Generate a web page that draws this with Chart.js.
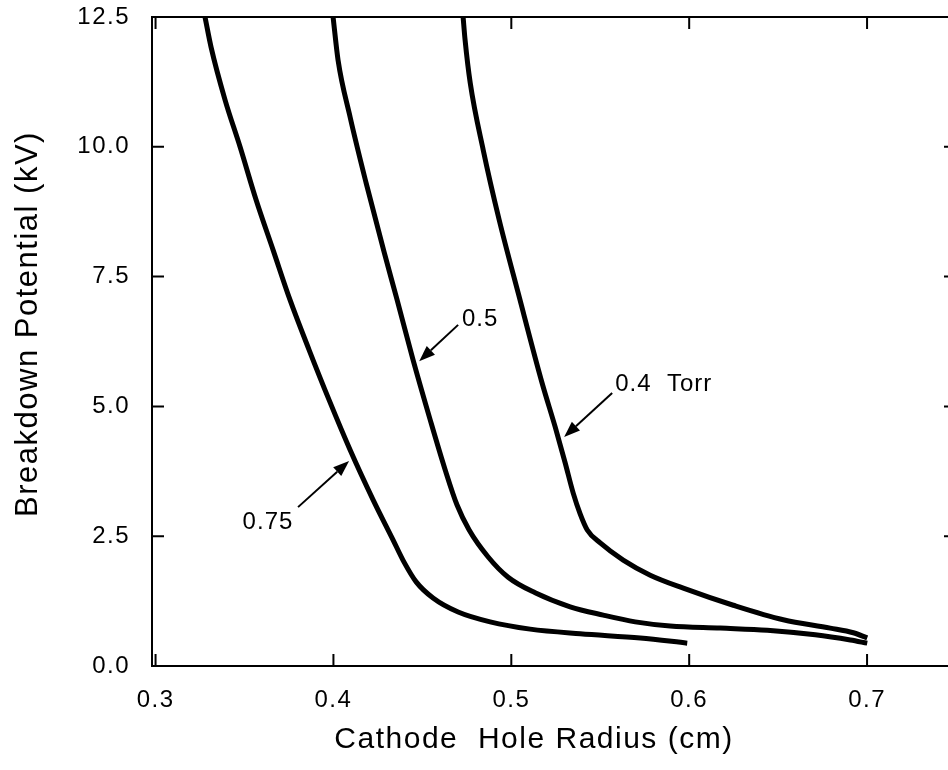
<!DOCTYPE html>
<html>
<head>
<meta charset="utf-8">
<script src="https://cdn.jsdelivr.net/npm/chart.js@4/dist/chart.umd.min.js"></script>
<style>
  html, body { margin: 0; padding: 0; overflow: hidden; background: #fff; }
  canvas { display: block; }
</style>
</head>
<body>
<canvas id="grafico" width="960" height="770"></canvas>
<script>
// Datos: radio del agujero (cm) y potencial de ruptura (kV)
const radio075 = [0.3278, 0.3312, 0.3391, 0.3475, 0.3565, 0.3661, 0.3756, 0.3863, 0.3976, 0.4094, 0.4223,
    0.4335, 0.4397, 0.4465, 0.4560, 0.4701, 0.4881, 0.5106, 0.5387, 0.5725, 0.5989];
const potencial075 = [12.5, 11.92, 10.90, 10.00, 8.98, 8.01, 7.05, 6.09, 5.12, 4.16, 3.20,
    2.43, 2.00, 1.62, 1.31, 1.04, 0.85, 0.71, 0.62, 0.54, 0.44];

const radio05 = [0.3998, 0.4026, 0.4094, 0.4184, 0.4285, 0.4358, 0.4448, 0.4544, 0.4628, 0.4695, 0.4763,
    0.4870, 0.4982, 0.5134, 0.5331, 0.5517, 0.5697, 0.5893, 0.6175, 0.6439, 0.6709, 0.6906, 0.7001];
const potencial05 = [12.5, 11.67, 10.57, 9.30, 7.97, 7.05, 5.89, 4.74, 3.78, 3.10, 2.62,
    2.10, 1.71, 1.41, 1.14, 0.98, 0.85, 0.77, 0.73, 0.69, 0.60, 0.50, 0.44];

const radio04 = [0.4729, 0.4740, 0.4769, 0.4842, 0.4932, 0.5039, 0.5173, 0.5247, 0.5303, 0.5348, 0.5387,
    0.5427, 0.5500, 0.5629, 0.5781, 0.5967, 0.6248, 0.6529, 0.6793, 0.6923, 0.7001];
const potencial04 = [12.5, 12.06, 11.23, 9.94, 8.59, 7.18, 5.45, 4.60, 3.91, 3.33, 2.93,
    2.62, 2.37, 2.04, 1.75, 1.50, 1.17, 0.89, 0.73, 0.64, 0.54];

const ticksX = [0.3, 0.4, 0.5, 0.6, 0.7];
const ticksY = [0, 2.5, 5, 7.5, 10, 12.5];

// Etiquetas de presion con su flecha (coordenadas en unidades de datos)
const etiquetas = ['0.75', '0.5', '0.4  Torr'];
const etiquetaX = [0.3632, 0.4825, 0.5584];
const etiquetaY = [2.77, 6.68, 5.43];
const flechaDesdeX = [0.3801, 0.4701, 0.5567];
const flechaDesdeY = [3.06, 6.57, 5.26];
const flechaHastaX = [0.4088, 0.4482, 0.5297];
const flechaHastaY = [3.95, 5.87, 4.41];

const tituloX = 'Cathode  Hole Radius (cm)';
const tituloY = 'Breakdown Potential (kV)';

const fuente = '"Liberation Sans", Arial, sans-serif';

function puntos(xs, ys) {
    return xs.map((x, i) => ({ x: x, y: ys[i] }));
}

function serie(xs, ys) {
    return {
        data: puntos(xs, ys),
        borderColor: '#000',
        borderWidth: 5,
        pointRadius: 0,
        fill: false,
        cubicInterpolationMode: 'monotone'
    };
}

// Marco, marcas hacia dentro, etiquetas y titulos
const pluginMarco = {
    id: 'marco',
    beforeDraw(chart) {
        chart.ctx.letterSpacing = '1.5px';
    },
    afterDraw(chart) {
        const ctx = chart.ctx;
        const a = chart.chartArea;
        const sx = chart.scales.x;
        const sy = chart.scales.y;
        ctx.save();
        ctx.strokeStyle = '#000';
        ctx.fillStyle = '#000';
        ctx.lineWidth = 2;
        ctx.strokeRect(a.left, a.top, a.right - a.left, a.bottom - a.top);

        const largo = 12;
        ctx.beginPath();
        ticksX.forEach(v => {
            const px = sx.getPixelForValue(v);
            ctx.moveTo(px, a.bottom);
            ctx.lineTo(px, a.bottom - largo);
            ctx.moveTo(px, a.top);
            ctx.lineTo(px, a.top + largo);
        });
        ticksY.forEach(v => {
            const py = sy.getPixelForValue(v);
            ctx.moveTo(a.left, py);
            ctx.lineTo(a.left + largo, py);
            ctx.moveTo(a.right, py);
            ctx.lineTo(a.right - largo, py);
        });
        ctx.stroke();

        // Flechas
        for (let i = 0; i < etiquetas.length; i++) {
            const x1 = sx.getPixelForValue(flechaDesdeX[i]);
            const y1 = sy.getPixelForValue(flechaDesdeY[i]);
            const x2 = sx.getPixelForValue(flechaHastaX[i]);
            const y2 = sy.getPixelForValue(flechaHastaY[i]);
            const ang = Math.atan2(y2 - y1, x2 - x1);
            const cabeza = 16;
            const ancho = 6;
            const bx = x2 - cabeza * Math.cos(ang);
            const by = y2 - cabeza * Math.sin(ang);
            ctx.beginPath();
            ctx.moveTo(x1, y1);
            ctx.lineTo(bx, by);
            ctx.stroke();
            ctx.beginPath();
            ctx.moveTo(x2, y2);
            ctx.lineTo(bx + ancho * Math.sin(ang), by - ancho * Math.cos(ang));
            ctx.lineTo(bx - ancho * Math.sin(ang), by + ancho * Math.cos(ang));
            ctx.closePath();
            ctx.fill();
        }

        // Textos de presion
        ctx.font = '24px ' + fuente;
        ctx.letterSpacing = '1px';
        ctx.textBaseline = 'middle';
        for (let i = 0; i < etiquetas.length; i++) {
            ctx.textAlign = i === 2 ? 'left' : 'center';
            ctx.fillText(etiquetas[i], sx.getPixelForValue(etiquetaX[i]), sy.getPixelForValue(etiquetaY[i]));
        }

        // Titulos de los ejes
        ctx.font = '30px ' + fuente;
        ctx.letterSpacing = '1.5px';
        ctx.textAlign = 'center';
        ctx.fillText(tituloX, 534, 740);
        ctx.font = '31px ' + fuente;
        ctx.translate(28, 324);
        ctx.rotate(-Math.PI / 2);
        ctx.fillText(tituloY, 0, 0);
        ctx.restore();
    }
};

new Chart(document.getElementById('grafico'), {
    type: 'line',
    data: {
        datasets: [
            serie(radio075, potencial075),
            serie(radio05, potencial05),
            serie(radio04, potencial04)
        ]
    },
    options: {
        responsive: false,
        animation: false,
        layout: { padding: { top: 17, right: 4, left: 0, bottom: 0 } },
        plugins: { legend: { display: false }, tooltip: { enabled: false } },
        scales: {
            x: {
                type: 'linear',
                min: 0.298,
                max: 0.75,
                afterBuildTicks: s => { s.ticks = ticksX.map(v => ({ value: v })); },
                afterFit: s => { s.height = 104; s.paddingLeft = 0; s.paddingRight = 0; },
                grid: { display: false, drawTicks: false },
                border: { display: false },
                ticks: {
                    color: '#000',
                    font: { family: fuente, size: 24 },
                    padding: 20,
                    autoSkip: false,
                    maxRotation: 0,
                    callback: v => v.toFixed(1)
                }
            },
            y: {
                type: 'linear',
                min: 0,
                max: 12.5,
                afterBuildTicks: s => { s.ticks = ticksY.map(v => ({ value: v })); },
                afterFit: s => { s.width = 152; s.paddingTop = 0; s.paddingBottom = 0; },
                grid: { display: false, drawTicks: false },
                border: { display: false },
                ticks: {
                    color: '#000',
                    font: { family: fuente, size: 24 },
                    padding: 22,
                    autoSkip: false,
                    callback: v => v.toFixed(1)
                }
            }
        }
    },
    plugins: [pluginMarco]
});
</script>
</body>
</html>
